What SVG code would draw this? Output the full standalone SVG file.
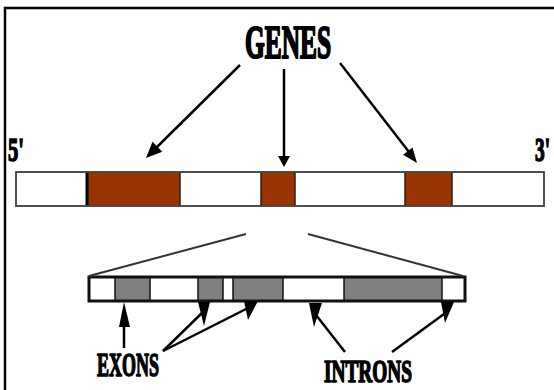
<svg xmlns="http://www.w3.org/2000/svg" width="554" height="390" viewBox="0 0 554 390">
<style>
.lbl{font-family:"Liberation Serif","DejaVu Serif",serif;font-weight:bold;fill:#000;stroke:#000;stroke-width:1.6;stroke-linejoin:round}
.ex{fill:#993300}
.gr{fill:#808080}
.seg{stroke:#222;stroke-width:1.5}
.con{stroke:#000;stroke-width:2.5;fill:none}
.zoom{stroke:#333;stroke-width:2;fill:none}
.head{fill:#000}
</style>
<rect width="554" height="390" fill="#fff"/>
<path d="M5,390 V8 H554" fill="none" stroke="#000" stroke-width="2.5"/>
<g id="genes-label"><text class="lbl" x="245" y="58" font-size="46" textLength="86" lengthAdjust="spacingAndGlyphs" style="stroke-width:2.2">GENES</text></g>
<g id="five-prime"><text class="lbl" x="8" y="161" font-size="33" textLength="16" lengthAdjust="spacingAndGlyphs">5'</text></g>
<g id="three-prime"><text class="lbl" x="535" y="161" font-size="33" textLength="15" lengthAdjust="spacingAndGlyphs">3'</text></g>
<g id="dna-strand">
<rect x="16" y="172" width="528" height="34" fill="#fff" stroke="#444" stroke-width="1.5"/>
<rect class="ex" x="87" y="172" width="93" height="34"/>
<rect class="ex" x="261" y="172" width="34" height="34"/>
<rect class="ex" x="405" y="172" width="47" height="34"/>
<line x1="87" y1="172" x2="87" y2="206" stroke="#000" stroke-width="3"/>
<g class="seg"><line x1="180" y1="172" x2="180" y2="206"/><line x1="261" y1="172" x2="261" y2="206"/><line x1="295" y1="172" x2="295" y2="206"/><line x1="405" y1="172" x2="405" y2="206"/><line x1="452" y1="172" x2="452" y2="206"/></g>
<rect x="16" y="172" width="528" height="34" fill="none" stroke="#444" stroke-width="1.5"/>
</g>
<g id="gene-detail">
<rect x="89" y="277" width="376" height="24" fill="#fff"/>
<rect class="gr" x="115" y="277" width="35" height="24"/>
<rect class="gr" x="198" y="277" width="25" height="24"/>
<rect class="gr" x="233" y="277" width="50" height="24"/>
<rect class="gr" x="344" y="277" width="98" height="24"/>
<g stroke="#111" stroke-width="1.5"><line x1="115" y1="277" x2="115" y2="301"/><line x1="150" y1="277" x2="150" y2="301"/><line x1="198" y1="277" x2="198" y2="301"/><line x1="223" y1="277" x2="223" y2="301"/><line x1="233" y1="277" x2="233" y2="301"/><line x1="283" y1="277" x2="283" y2="301"/><line x1="344" y1="277" x2="344" y2="301"/><line x1="442" y1="277" x2="442" y2="301"/></g>
<rect x="89" y="277" width="376" height="24" fill="none" stroke="#111" stroke-width="3"/>
</g>
<g id="exons-label"><text class="lbl" x="97" y="376" font-size="34" textLength="62" lengthAdjust="spacingAndGlyphs">EXONS</text></g>
<g id="introns-label"><text class="lbl" x="324" y="382" font-size="32" textLength="88" lengthAdjust="spacingAndGlyphs">INTRONS</text></g>
<g id="connectors">
<line class="con" x1="240" y1="65" x2="156" y2="148"/>
<polygon class="head" points="146,158 162.3,151.8 152.5,141.8"/>
<line class="con" x1="284" y1="69" x2="284" y2="158"/>
<polygon class="head" points="278,156 290,156 284,167"/>
<line class="con" x1="340" y1="63" x2="409" y2="152"/>
<polygon class="head" points="417,163 412.5,147.4 403.1,154.8"/>
<line class="zoom" x1="246" y1="234" x2="89" y2="276"/>
<line class="zoom" x1="308" y1="234" x2="463" y2="276"/>
<line class="con" x1="124" y1="324" x2="124" y2="348"/>
<polygon class="head" points="124,302 119,327 130,327"/>
<line class="con" x1="163" y1="351" x2="203" y2="312"/>
<polygon class="head" points="198,302 210,302 204,326"/>
<line class="con" x1="163" y1="351" x2="250" y2="307"/>
<polygon class="head" points="244,301 258,301 248,320"/>
<line class="con" x1="345" y1="352" x2="316" y2="315"/>
<polygon class="head" points="309,303 322,303 314,327"/>
<line class="con" x1="392" y1="352" x2="444" y2="314"/>
<polygon class="head" points="441,302 454,302 445,323"/>
</g>
</svg>
